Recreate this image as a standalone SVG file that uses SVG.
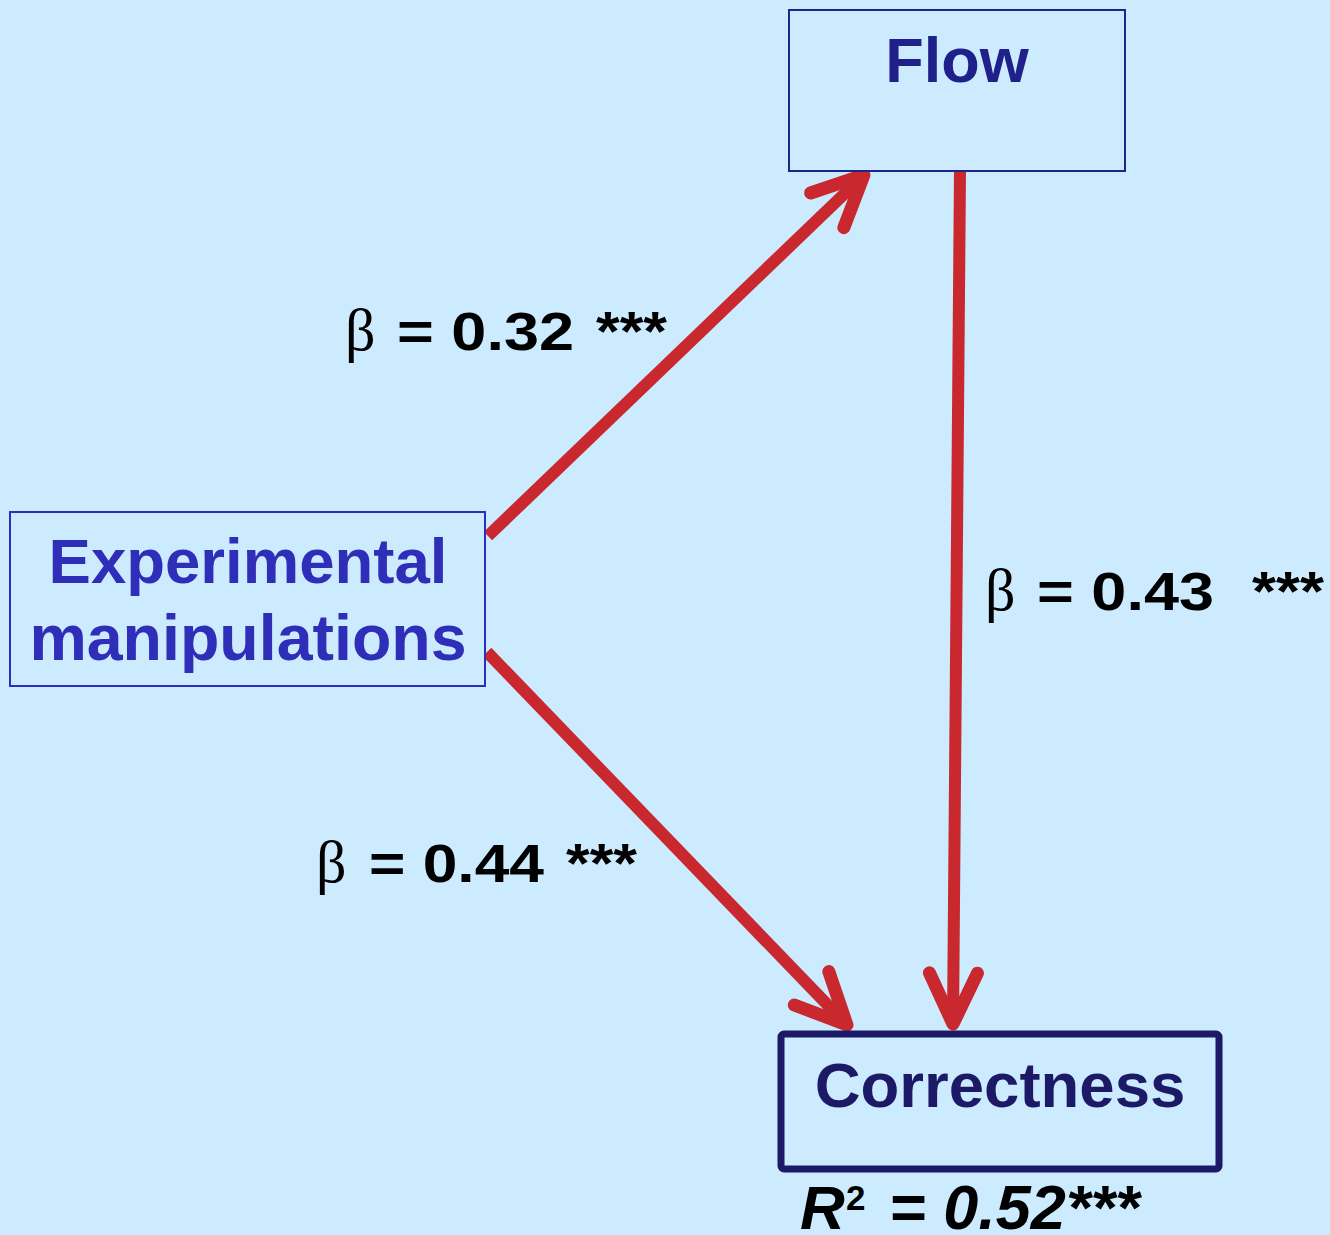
<svg xmlns="http://www.w3.org/2000/svg" width="1330" height="1235" viewBox="0 0 1330 1235">
<style>
.bg{fill:#CCEBFE}
.box{fill:#CCEBFE}
.lbl{font-family:"Liberation Sans",Arial,sans-serif;font-weight:bold;fill:#000}
.beta{font-family:"Liberation Serif","Times New Roman",serif;font-weight:normal;fill:#000;font-size:60px}
.node{font-family:"Liberation Sans",Arial,sans-serif;font-weight:bold;text-anchor:middle}
.conn{fill:none;stroke:#C8282E;stroke-width:12;stroke-linecap:butt}
</style>
<defs>
<marker id="ah" markerUnits="userSpaceOnUse" orient="auto" refX="0" refY="0" markerWidth="120" markerHeight="120" viewBox="-60 -60 120 120" overflow="visible">
<path d="M -51,-24 L 0,0 L -51,24" fill="none" stroke="#C8282E" stroke-width="13" stroke-linecap="round" stroke-linejoin="round"/>
</marker>
</defs>
<rect class="bg" x="0" y="0" width="1330" height="1235"/>
<g id="connectors">
<line class="conn" x1="488" y1="536" x2="864" y2="175" marker-end="url(#ah)"/>
<line class="conn" x1="487" y1="652" x2="847" y2="1025" marker-end="url(#ah)"/>
<line class="conn" x1="960" y1="171" x2="953" y2="1024" marker-end="url(#ah)"/>
</g>
<g id="node-flow">
<rect class="box" x="789" y="10" width="336" height="161" stroke="#22228C" stroke-width="2"/>
<text class="node" x="957" y="82" font-size="63" fill="#20208A">Flow</text>
</g>
<g id="node-experimental">
<rect class="box" x="10" y="512" width="475" height="174" stroke="#2E2EBC" stroke-width="2"/>
<text class="node" x="248" y="583" font-size="63.5" fill="#2E2EB8">Experimental</text>
<text class="node" x="248" y="660" font-size="64.5" fill="#2E2EB8">manipulations</text>
</g>
<g id="node-correctness">
<rect class="box" x="781" y="1034" width="438" height="135" rx="3" stroke="#1C1A66" stroke-width="7"/>
<text class="node" x="1000" y="1107" font-size="63.5" fill="#1C1A66">Correctness</text>
<text class="lbl" x="800" y="1229" font-size="62" font-style="italic">R</text>
<text class="lbl" x="846" y="1210" font-size="35">2</text>
<text class="lbl" x="889" y="1229" font-size="63" font-style="italic">= 0.52***</text>
</g>
<g id="label-ef">
<text class="beta" x="345" y="350">β</text>
<text class="lbl" x="397" y="350" font-size="54" textLength="177" lengthAdjust="spacingAndGlyphs">= 0.32</text>
<text class="lbl" x="596" y="350" font-size="55" textLength="71" lengthAdjust="spacingAndGlyphs">***</text>
</g>
<g id="label-fc">
<text class="beta" x="985" y="610">β</text>
<text class="lbl" x="1037" y="610" font-size="54" textLength="177" lengthAdjust="spacingAndGlyphs">= 0.43</text>
<text class="lbl" x="1252" y="610" font-size="55" textLength="72" lengthAdjust="spacingAndGlyphs">***</text>
</g>
<g id="label-ec">
<text class="beta" x="316" y="882">β</text>
<text class="lbl" x="369" y="882" font-size="54" textLength="175" lengthAdjust="spacingAndGlyphs">= 0.44</text>
<text class="lbl" x="566" y="882" font-size="55" textLength="71" lengthAdjust="spacingAndGlyphs">***</text>
</g>
</svg>
